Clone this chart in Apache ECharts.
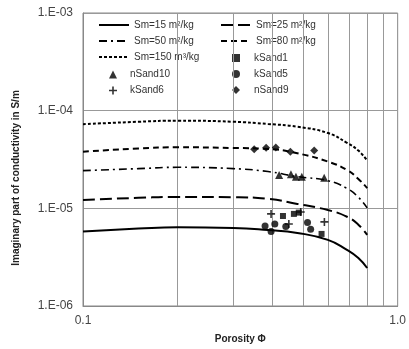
<!DOCTYPE html>
<html>
<head>
<meta charset="utf-8">
<script src="https://cdn.jsdelivr.net/npm/echarts@6/dist/echarts.min.js"></script>
<style>
  html, body { margin: 0; padding: 0; background: #fff; }
  #chart { width: 409px; height: 349px; }
</style>
</head>
<body>
<div id="chart"></div>
<script>
// model curves
const porosity = [0.1, 0.15, 0.2, 0.3, 0.387, 0.48, 0.6, 0.69, 0.75, 0.8];
const sm15 = [5.78e-6, 6.2e-6, 6.4e-6, 6.3e-6, 6.0e-6, 5.6e-6, 4.75e-6, 3.75e-6, 3.1e-6, 2.45e-6];
const sm25 = [1.22e-5, 1.28e-5, 1.31e-5, 1.3e-5, 1.25e-5, 1.11e-5, 9.6e-6, 8.2e-6, 6.8e-6, 5.35e-6];
const sm50 = [2.43e-5, 2.55e-5, 2.63e-5, 2.55e-5, 2.38e-5, 2.11e-5, 1.92e-5, 1.6e-5, 1.3e-5, 1.01e-5];
const sm80 = [3.8e-5, 4.1e-5, 4.22e-5, 4.15e-5, 4.05e-5, 3.66e-5, 3.01e-5, 2.47e-5, 2.0e-5, 1.61e-5];
const sm150 = [7.26e-5, 7.7e-5, 7.9e-5, 7.7e-5, 7.3e-5, 6.85e-5, 5.9e-5, 4.68e-5, 3.9e-5, 3.08e-5];

// measured samples [porosity, sigma'']
const kSand1 = [[0.432, 8.35e-6], [0.468, 8.77e-6], [0.485, 9.04e-6], [0.573, 5.47e-6]];
const kSand5 = [[0.379, 6.6e-6], [0.396, 5.78e-6], [0.407, 6.92e-6], [0.441, 6.5e-6], [0.517, 7.15e-6], [0.529, 6.1e-6]];
const kSand6 = [[0.396, 8.77e-6], [0.451, 6.92e-6], [0.492, 9.18e-6], [0.585, 7.26e-6]];
const nSand10 = [[0.42, 2.2e-5], [0.458, 2.23e-5], [0.475, 2.11e-5], [0.496, 2.11e-5], [0.584, 2.06e-5]];
const nSand9 = [[0.35, 4.03e-5], [0.382, 4.18e-5], [0.41, 4.2e-5], [0.456, 3.8e-5], [0.543, 3.9e-5]];

const xGrid = [0.2, 0.3, 0.4, 0.5, 0.6, 0.7, 0.8, 0.9];
const yGrid = [];
[1e-6, 1e-5, 1e-4].forEach((d) => {
  for (let k = 2; k <= 9; k++) yGrid.push(k * d);
});

const plusIcon = "path://M4,0H6V4H10V6H6V10H4V6H0V4H4Z";

function curve(name, values, width, type) {
  return {
    name: name,
    type: "line",
    smooth: true,
    symbol: "none",
    data: porosity.map((p, i) => [p, values[i]]),
    lineStyle: { color: "#000", width: width, type: type },
    itemStyle: { color: "#000" },
    z: 5,
  };
}

function points(name, data, symbol, size) {
  return {
    name: name,
    type: "scatter",
    data: data,
    symbol: symbol,
    symbolSize: size,
    itemStyle: { color: "#000" },
    z: 6,
  };
}

// line entries get no marker in the legend
function lineItem(name) {
  return { name: name, itemStyle: { opacity: 0 } };
}

const rowStep = 16.5;
const legendTop = 20;

function lineLegend(left, names) {
  return {
    orient: "vertical",
    left: left,
    top: legendTop,
    padding: 0,
    itemWidth: 30,
    itemHeight: 8,
    itemGap: 6,
    textStyle: { fontSize: 10, color: "#333", fontFamily: "Liberation Sans" },
    data: names.map(lineItem),
  };
}

function markLegend(left, row, textPad, names) {
  return {
    orient: "vertical",
    left: left,
    top: legendTop + row * rowStep,
    padding: 0,
    itemWidth: 8,
    itemHeight: 8,
    itemGap: 6,
    textStyle: { fontSize: 10, color: "#333", fontFamily: "Liberation Sans", padding: [0, 0, 0, textPad] },
    data: names,
  };
}

const chart = echarts.init(document.getElementById("chart"));
chart.setOption({
  animation: false,
  textStyle: { fontFamily: "Liberation Sans" },
  grid: { left: 83, right: 8, top: 13, bottom: 43, show: true, borderColor: "#888", borderWidth: 1 },
  legend: [
    lineLegend(98, ["Sm=15 m²/kg", "Sm=50 m²/kg", "Sm=150 m³/kg"]),
    markLegend(109, 3, 8, ["nSand10", "kSand6"]),
    lineLegend(220, ["Sm=25 m²/kg", "Sm=80 m²/kg"]),
    markLegend(232, 2, 9, ["kSand1", "kSand5", "nSand9"]),
  ],
  xAxis: {
    type: "log",
    logBase: 10,
    min: 0.1,
    max: 1,
    name: "Porosity Φ",
    nameLocation: "middle",
    nameGap: 28,
    nameTextStyle: { fontSize: 10, fontWeight: "bold", color: "#222" },
    axisLine: { lineStyle: { color: "#888" } },
    axisTick: { show: false },
    splitLine: { show: false },
    axisLabel: { fontSize: 12, color: "#444", margin: 9, formatter: (v) => v.toFixed(1) },
  },
  yAxis: {
    type: "log",
    logBase: 10,
    min: 1e-6,
    max: 1e-3,
    axisLine: { lineStyle: { color: "#888" } },
    axisTick: { show: false },
    splitLine: { show: true, lineStyle: { color: "#999" } },
    axisLabel: {
      fontSize: 12,
      color: "#444",
      margin: 10,
      formatter: (v) => {
        const e = Math.round(Math.log10(v));
        return "1.E" + (e < 0 ? "-" : "+") + String(Math.abs(e)).padStart(2, "0");
      },
    },
  },
  graphic: [
    { type: "rect", shape: { x: 86, y: 14, width: 244, height: 83 }, style: { fill: "#fff" }, z: 3 },
    {
      type: "text",
      x: 16,
      y: 178,
      rotation: Math.PI / 2,
      style: {
        text: "Imaginary part of conductivity in S/m",
        fontSize: 10,
        fontWeight: "bold",
        fill: "#222",
        fontFamily: "Liberation Sans",
        align: "center",
        verticalAlign: "middle",
      },
    },
  ],
  series: [
    {
      name: "_grid",
      type: "line",
      data: [],
      silent: true,
      z: 1,
      markLine: {
        silent: true,
        symbol: "none",
        label: { show: false },
        lineStyle: { color: "#999", width: 1, type: "solid" },
        data: xGrid.map((v) => ({ xAxis: v })).concat(yGrid.map((v) => ({ yAxis: v }))),
      },
    },
    curve("Sm=15 m²/kg", sm15, 2, "solid"),
    curve("Sm=25 m²/kg", sm25, 2, [12, 5]),
    curve("Sm=50 m²/kg", sm50, 1.6, [8, 4, 2, 4]),
    curve("Sm=80 m²/kg", sm80, 2, [6, 4]),
    curve("Sm=150 m³/kg", sm150, 2, [3, 2]),
    points("kSand1", kSand1, "rect", 6),
    points("nSand10", nSand10, "triangle", 8),
    points("kSand5", kSand5, "circle", 7),
    points("kSand6", kSand6, plusIcon, 8),
    points("nSand9", nSand9, "diamond", 8),
  ],
});
</script>
</body>
</html>
